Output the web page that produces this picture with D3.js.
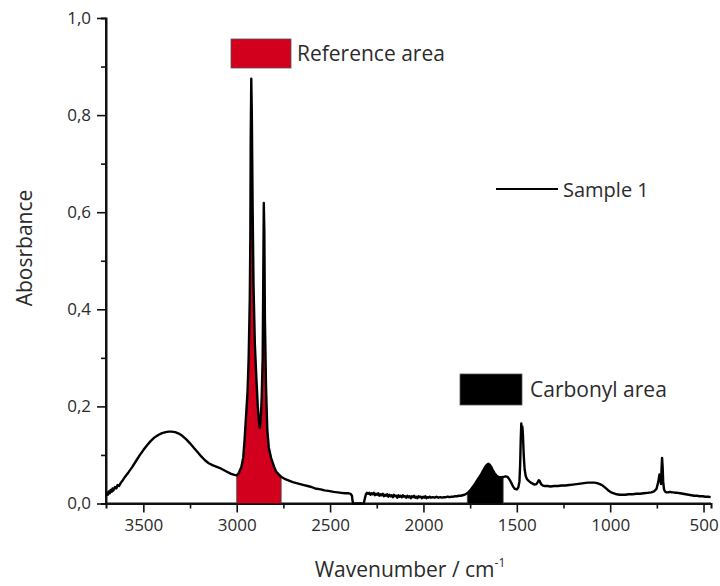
<!DOCTYPE html>
<html>
<head>
<meta charset="utf-8">
<script src="https://cdn.jsdelivr.net/npm/d3@7"></script>
<style>
    body { margin: 0; background: white; }
    text { font-family: "Open Sans", "DejaVu Sans", sans-serif; fill: #2b2b2b; }
</style>
</head>
<body>
<div id="chart"></div>
<script>
// FTIR spectrum (wavenumber in cm-1, absorbance)
const wavenumbers = [
    3700, 3695, 3690, 3685, 3680, 3675, 3670, 3665, 3660, 3652, 3645, 3638, 3630, 3620, 3610, 3600,
    3580, 3560, 3540, 3520, 3500, 3480, 3460, 3440, 3420, 3400, 3380, 3365, 3350, 3330, 3310, 3290,
    3270, 3250, 3230, 3210, 3190, 3170, 3150, 3130, 3110, 3090, 3070, 3050, 3030, 3012, 3000,
    2990, 2975, 2965, 2958, 2950, 2942, 2936, 2930, 2927, 2925, 2922, 2919, 2915, 2910, 2903,
    2895, 2887, 2880, 2876, 2871, 2866, 2861, 2858, 2855, 2852, 2849, 2843, 2836, 2828, 2816,
    2800, 2789, 2775, 2762, 2740, 2720, 2700, 2670, 2640, 2620, 2600, 2580, 2550, 2530, 2510,
    2480, 2460, 2440, 2420, 2400, 2390, 2383, 2379, 2376, 2340, 2320, 2314, 2308, 2302,
    2296, 2290, 2284, 2278, 2272, 2266, 2260, 2254, 2248, 2242, 2236, 2230, 2224, 2218, 2212,
    2206, 2200, 2194, 2188, 2182, 2176, 2170, 2164, 2158, 2152, 2146, 2140, 2134, 2128, 2122,
    2116, 2110, 2104, 2098, 2092, 2086, 2080, 2074, 2068, 2062, 2056, 2050, 2044, 2038, 2032,
    2026, 2020, 2014, 2008, 2002, 1996, 1990, 1984, 1978, 1972, 1966, 1960, 1950, 1940, 1930,
    1920, 1910, 1900, 1890, 1880, 1870, 1860, 1850, 1840, 1830, 1820, 1810, 1800, 1790, 1780,
    1770, 1760, 1750, 1740, 1730, 1720, 1710, 1700, 1690, 1680, 1670, 1660, 1652, 1645, 1638,
    1630, 1620, 1610, 1600, 1590, 1580, 1570, 1560, 1550, 1540, 1530, 1520, 1510, 1500, 1492,
    1486, 1482, 1479, 1476, 1473, 1470, 1467, 1463, 1458, 1452, 1445, 1435, 1425, 1415, 1405,
    1395, 1388, 1382, 1378, 1374, 1368, 1360, 1350, 1335, 1320, 1300, 1280, 1260, 1240, 1220,
    1200, 1180, 1160, 1140, 1120, 1100, 1085, 1070, 1055, 1040, 1025, 1010, 995, 980, 965,
    950, 935, 920, 900, 880, 860, 840, 820, 800, 780, 765, 752, 742, 736, 731, 728, 725, 722,
    719, 716, 712, 707, 700, 690, 680, 670, 660, 650, 640, 625, 610, 595, 580, 565, 550, 535,
    520, 505, 490, 475, 462
]
const absorbance = [
    0.016, 0.022, 0.018, 0.025, 0.021, 0.028, 0.024, 0.031, 0.027, 0.034, 0.031, 0.038, 0.036, 0.043, 0.048, 0.054,
    0.064, 0.075, 0.087, 0.099, 0.110, 0.120, 0.129, 0.136, 0.141, 0.145, 0.147, 0.148, 0.148, 0.147, 0.144, 0.139,
    0.132, 0.124, 0.115, 0.106, 0.097, 0.089, 0.083, 0.079, 0.076, 0.073, 0.069, 0.065, 0.061, 0.059, 0.058,
    0.062, 0.075, 0.095, 0.130, 0.180, 0.230, 0.300, 0.420, 0.550, 0.750, 0.875, 0.800, 0.620, 0.450, 0.330,
    0.260, 0.200, 0.165, 0.156, 0.175, 0.220, 0.300, 0.450, 0.619, 0.560, 0.380, 0.240, 0.150, 0.115, 0.094,
    0.076, 0.066, 0.060, 0.055, 0.050, 0.047, 0.044, 0.041, 0.038, 0.036, 0.034, 0.031, 0.029, 0.027, 0.026,
    0.024, 0.023, 0.022, 0.021, 0.021, 0.020, 0.016, 0.004, 0.000, 0.000, 0.000, 0.010, 0.019, 0.022,
    0.020, 0.022, 0.018, 0.021, 0.019, 0.022, 0.017, 0.020, 0.018, 0.021, 0.016, 0.019, 0.017, 0.020, 0.015,
    0.018, 0.016, 0.019, 0.014, 0.018, 0.015, 0.017, 0.013, 0.018, 0.015, 0.016, 0.012, 0.017, 0.014, 0.016,
    0.013, 0.017, 0.014, 0.015, 0.012, 0.016, 0.013, 0.015, 0.011, 0.015, 0.013, 0.016, 0.012, 0.014, 0.011,
    0.015, 0.013, 0.014, 0.011, 0.014, 0.012, 0.015, 0.011, 0.013, 0.012, 0.014, 0.012, 0.013, 0.012, 0.014,
    0.012, 0.013, 0.012, 0.013, 0.013, 0.014, 0.013, 0.014, 0.014, 0.015, 0.015, 0.016, 0.016, 0.017, 0.018,
    0.020, 0.023, 0.027, 0.032, 0.037, 0.043, 0.049, 0.055, 0.061, 0.068, 0.075, 0.080, 0.082, 0.080, 0.076,
    0.070, 0.063, 0.058, 0.055, 0.054, 0.054, 0.055, 0.056, 0.055, 0.050, 0.043, 0.035, 0.030, 0.029, 0.033,
    0.045, 0.080, 0.130, 0.165, 0.150, 0.158, 0.140, 0.100, 0.070, 0.056, 0.050, 0.046, 0.043, 0.041, 0.039,
    0.040, 0.044, 0.048, 0.047, 0.043, 0.039, 0.037, 0.036, 0.036, 0.035, 0.036, 0.036, 0.037, 0.037, 0.038,
    0.039, 0.040, 0.041, 0.042, 0.043, 0.043, 0.043, 0.042, 0.040, 0.037, 0.032, 0.027, 0.023, 0.021, 0.019,
    0.018, 0.018, 0.018, 0.019, 0.019, 0.020, 0.020, 0.021, 0.022, 0.023, 0.025, 0.030, 0.045, 0.060, 0.055, 0.040, 0.070, 0.094,
    0.075, 0.045, 0.030, 0.025, 0.023, 0.023, 0.024, 0.023, 0.023, 0.022, 0.022, 0.021, 0.020, 0.019, 0.018, 0.017, 0.016, 0.016,
    0.015, 0.015, 0.014, 0.014, 0.013
]

// integration windows (cm-1)
const referenceArea = [3000, 2762]
const carbonylArea = [1765, 1573]

const xMajorTicks = [3500, 3000, 2500, 2000, 1500, 1000, 500]
const xMinorTicks = [3250, 2750, 2250, 1750, 1250, 750]
const yMajorTicks = [0, 0.2, 0.4, 0.6, 0.8, 1.0]
const yMinorTicks = [0.1, 0.3, 0.5, 0.7, 0.9]

const seriesName = 'Sample 1'

class SpectrumVis {
    constructor(parentElement) {
        this.parentElement = parentElement
        this.data = wavenumbers.map((w, i) => ({w: w, a: absorbance[i]}))
        this.initVis()
    }
    initVis() {
        let vis = this

        vis.width = 720
        vis.height = 586

        vis.svg = d3.select('#' + vis.parentElement).append('svg')
            .attr('width', vis.width)
            .attr('height', vis.height)

        vis.x = d3.scaleLinear().domain([3700, 460]).range([106, 711])
        vis.y = d3.scaleLinear().domain([0, 1]).range([503.5, 18])

        const fmt = d => d3.format('.1f')(d).replace('.', ',')

        // axes, major + minor ticks
        const xAxis = vis.svg.append('g')
            .attr('transform', `translate(0, ${vis.y(0)})`)
            .call(d3.axisBottom(vis.x).tickValues(xMajorTicks).tickSize(9).tickPadding(6).tickFormat(d3.format('d')))
        xAxis.append('g')
            .call(d3.axisBottom(vis.x).tickValues(xMinorTicks).tickSize(5).tickFormat(''))
        const yAxis = vis.svg.append('g')
            .attr('transform', `translate(${vis.x(3700)}, 0)`)
            .call(d3.axisLeft(vis.y).tickValues(yMajorTicks).tickSize(9).tickPadding(6).tickFormat(fmt))
        yAxis.append('g')
            .call(d3.axisLeft(vis.y).tickValues(yMinorTicks).tickSize(5).tickFormat(''))

        vis.svg.selectAll('.domain').attr('stroke', '#111').attr('stroke-width', 2)
        vis.svg.selectAll('.tick line').attr('stroke', '#111').attr('stroke-width', 1.6)
        vis.svg.selectAll('.tick text')
            .attr('font-size', 17)
            .attr('font-family', '"Open Sans", sans-serif')
            .attr('fill', '#333')
        // plain axis lines, no outer ticks
        xAxis.select('.domain').attr('d', `M${vis.x(3700)},0H${vis.x(460)}`)
        yAxis.select('.domain').attr('d', `M0,${vis.y(0)}V${vis.y(1)}`)

        // axis titles
        const xTitle = vis.svg.append('text')
            .attr('x', 410)
            .attr('y', 577)
            .attr('text-anchor', 'middle')
            .attr('font-size', 21)
        xTitle.append('tspan').text('Wavenumber / cm')
        xTitle.append('tspan').text('-1').attr('font-size', 12).attr('dy', -10)

        vis.svg.append('text')
            .attr('transform', `translate(32, 248) rotate(-90)`)
            .attr('text-anchor', 'middle')
            .attr('font-size', 21)
            .text('Abosrbance')

        vis.updateVis()
    }
    updateVis() {
        let vis = this

        const area = d3.area()
            .x(d => vis.x(d.w))
            .y0(vis.y(0))
            .y1(d => vis.y(d.a))
        const line = d3.line()
            .x(d => vis.x(d.w))
            .y(d => vis.y(d.a))

        // shaded integration windows, clipped to their wavenumber range
        const windows = [
            {id: 'ref-clip', range: referenceArea, color: '#d2001c'},
            {id: 'carb-clip', range: carbonylArea, color: '#000'},
        ]
        const defs = vis.svg.append('defs')
        windows.forEach(win => {
            defs.append('clipPath').attr('id', win.id)
                .append('rect')
                .attr('x', vis.x(win.range[0]))
                .attr('y', 0)
                .attr('width', vis.x(win.range[1]) - vis.x(win.range[0]))
                .attr('height', vis.y(0))
            vis.svg.append('path')
                .datum(vis.data)
                .attr('clip-path', `url(#${win.id})`)
                .attr('fill', win.color)
                .attr('d', area)
            // thin edges at the window limits
            win.range.forEach(w => {
                vis.svg.append('line')
                    .attr('x1', vis.x(w)).attr('x2', vis.x(w))
                    .attr('y1', vis.y(0))
                    .attr('y2', vis.y(vis.data.find(p => p.w <= w).a))
                    .attr('stroke', '#444')
                    .attr('stroke-width', 0.8)
            })
        })

        vis.svg.append('path')
            .datum(vis.data)
            .attr('fill', 'none')
            .attr('stroke', '#000')
            .attr('stroke-width', 2.4)
            .attr('stroke-linejoin', 'round')
            .attr('d', line)

        // annotation boxes
        vis.svg.append('rect')
            .attr('x', 231).attr('y', 39).attr('width', 60).attr('height', 29)
            .attr('fill', '#d2001c').attr('stroke', '#555').attr('stroke-width', 0.8)
        vis.svg.append('text')
            .attr('x', 297).attr('y', 61)
            .attr('font-size', 21)
            .text('Reference area')

        vis.svg.append('rect')
            .attr('x', 460).attr('y', 374).attr('width', 62).attr('height', 31)
            .attr('fill', '#000').attr('stroke', '#555').attr('stroke-width', 0.8)
        vis.svg.append('text')
            .attr('x', 530).attr('y', 397)
            .attr('font-size', 21)
            .text('Carbonyl area')

        // legend
        vis.svg.append('line')
            .attr('x1', 496).attr('x2', 558)
            .attr('y1', 189).attr('y2', 189)
            .attr('stroke', '#000').attr('stroke-width', 2)
        vis.svg.append('text')
            .attr('x', 563).attr('y', 197)
            .attr('font-size', 20)
            .text(seriesName)
    }
}

new SpectrumVis('chart')
</script>
</body>
</html>
